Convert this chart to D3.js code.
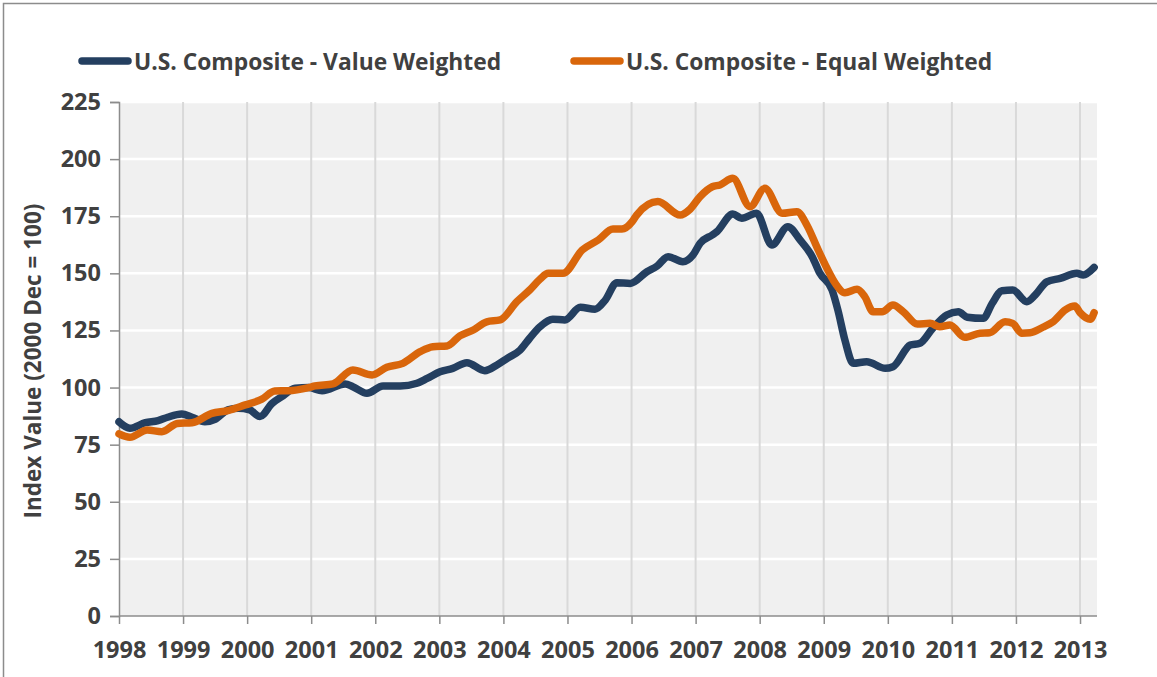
<!DOCTYPE html>
<html>
<head>
<meta charset="utf-8">
<script src="https://cdn.jsdelivr.net/npm/d3@7"></script>
<style>
  html, body { margin: 0; padding: 0; background: #ffffff; }
  svg { display: block; }
  text { font-family: "Open Sans", "Noto Sans", sans-serif; font-weight: 700; fill: #404040; }
</style>
</head>
<body>
<svg id="chart" width="1157" height="677"></svg>
<script>
// ---- data ----
const seriesNames = ["U.S. Composite - Value Weighted", "U.S. Composite - Equal Weighted"];

const valueWeightedDates = [1998.00,1998.17,1998.41,1998.61,1998.76,1998.98,1999.14,1999.34,1999.50,1999.70,1999.86,2000.04,2000.20,2000.39,2000.54,2000.75,2000.96,2001.17,2001.53,2001.65,2001.87,2002.12,2002.39,2002.65,2002.81,2003.01,2003.21,2003.43,2003.71,2003.90,2004.06,2004.26,2004.41,2004.57,2004.77,2004.96,2005.20,2005.43,2005.59,2005.77,2005.98,2006.24,2006.40,2006.57,2006.80,2006.96,2007.07,2007.26,2007.33,2007.58,2007.72,2007.95,2008.19,2008.44,2008.63,2008.82,2008.94,2009.13,2009.22,2009.33,2009.46,2009.67,2009.96,2010.08,2010.35,2010.50,2010.70,2010.92,2011.10,2011.24,2011.49,2011.63,2011.78,2011.95,2012.17,2012.30,2012.48,2012.69,2012.95,2013.05,2013.22];
const valueWeighted = [85.0,82.2,84.6,85.5,87.0,88.4,87.0,85.0,86.1,90.2,90.9,90.2,87.3,93.1,96.0,99.7,100.0,98.6,101.6,100.4,97.5,100.7,100.7,101.9,104.0,106.9,108.4,110.9,107.4,109.9,112.8,116.4,121.6,126.6,129.9,129.6,135.1,134.3,138.3,145.9,145.6,150.7,153.2,157.3,155.1,158.1,163.2,166.8,168.2,176.0,174.1,176.3,162.4,170.4,164.6,157.3,150.0,142.7,134.0,120.8,110.6,111.3,108.4,109.1,118.6,119.4,125.9,131.8,133.2,130.8,130.3,136.9,142.4,142.7,137.6,140.5,146.3,147.8,150.0,149.3,152.6];

const equalWeightedDates = [1998.00,1998.17,1998.44,1998.67,1998.91,1999.14,1999.45,1999.70,1999.97,2000.23,2000.43,2000.64,2000.96,2001.06,2001.34,2001.65,2001.95,2002.18,2002.43,2002.70,2002.90,2003.12,2003.32,2003.53,2003.74,2003.95,2004.21,2004.41,2004.57,2004.70,2004.93,2005.23,2005.48,2005.71,2005.85,2006.01,2006.08,2006.41,2006.76,2006.91,2007.07,2007.26,2007.38,2007.58,2007.85,2008.08,2008.35,2008.58,2008.75,2008.89,2009.05,2009.18,2009.33,2009.52,2009.64,2009.77,2009.91,2010.08,2010.24,2010.46,2010.66,2010.81,2010.97,2011.20,2011.44,2011.59,2011.83,2011.95,2012.09,2012.22,2012.42,2012.58,2012.77,2012.92,2013.00,2013.16,2013.22];
const equalWeighted = [79.7,78.2,81.4,80.7,84.3,84.6,88.7,89.9,92.4,94.9,98.5,98.6,100.0,100.7,101.6,107.7,105.5,108.9,110.6,115.7,117.9,118.2,122.6,125.2,128.8,129.6,137.6,142.7,147.4,150.0,150.0,160.2,164.6,169.4,169.4,172.6,175.5,181.4,175.5,178.0,183.6,187.9,188.7,191.6,179.2,187.2,176.3,177.0,170.4,161.7,152.2,145.6,141.5,143.0,139.8,133.2,133.2,136.1,133.2,127.8,128.1,126.6,127.4,122.0,123.8,124.0,128.8,128.1,123.8,124.0,126.4,128.8,134.0,135.7,132.8,129.9,132.8];

const yearTicks = [1998,1999,2000,2001,2002,2003,2004,2005,2006,2007,2008,2009,2010,2011,2012,2013];
const valueTicks = [0,25,50,75,100,125,150,175,200,225];
const yTitle = "Index Value (2000 Dec = 100)";

// ---- layout ----
const colors = ["#243f60", "#d9660b"];
const plot = { left: 119, right: 1097, top: 102, bottom: 616 };

const svg = d3.select("#chart");

// outer chart border
svg.append("rect")
  .attr("x", 3.5).attr("y", 3.5).attr("width", 1170).attr("height", 690)
  .attr("fill", "#ffffff").attr("stroke", "#8c8c8c").attr("stroke-width", 1.5);

const x = d3.scaleLinear().domain([1998, 2013.265]).range([plot.left, plot.right]);
const y = d3.scaleLinear().domain([0, 225]).range([plot.bottom, plot.top]);

// plot background
svg.append("rect")
  .attr("x", plot.left).attr("y", plot.top)
  .attr("width", plot.right - plot.left).attr("height", plot.bottom - plot.top)
  .attr("fill", "#f0f0f0");

// horizontal white gridlines
svg.append("g").selectAll("line").data(valueTicks.filter(v => v > 0)).join("line")
  .attr("x1", plot.left).attr("x2", plot.right)
  .attr("y1", d => y(d)).attr("y2", d => y(d))
  .attr("stroke", "#ffffff").attr("stroke-width", 2.5);

// vertical gridlines
svg.append("g").selectAll("line").data(yearTicks.filter(v => v > 1998)).join("line")
  .attr("x1", d => x(d)).attr("x2", d => x(d))
  .attr("y1", plot.top).attr("y2", plot.bottom)
  .attr("stroke", "#d9d9d9").attr("stroke-width", 2);

// axes
const yAxis = d3.axisLeft(y).tickValues(valueTicks).tickSize(9).tickPadding(9);
const gy = svg.append("g").attr("transform", `translate(${plot.left},0)`).call(yAxis);
gy.select(".domain").attr("stroke", "#8c8c8c").attr("stroke-width", 1.5);
gy.selectAll(".tick line").attr("stroke", "#8c8c8c").attr("stroke-width", 1.5);
gy.selectAll(".tick text").attr("font-size", 23.5).attr("font-family", null).attr("fill", "#404040");

const xAxis = d3.axisBottom(x).tickValues(yearTicks).tickFormat(d3.format("d")).tickSize(8).tickPadding(17);
const gx = svg.append("g").attr("transform", `translate(0,${plot.bottom})`).call(xAxis);
gx.select(".domain").attr("stroke", "#8c8c8c").attr("stroke-width", 1.5).attr("d", `M${plot.left},0H${plot.right}`);
gx.selectAll(".tick line").attr("stroke", "#8c8c8c").attr("stroke-width", 1.5);
gx.selectAll(".tick text").attr("font-size", 23.5).attr("font-family", null).attr("fill", "#404040");

// y title
svg.append("text")
  .attr("transform", `translate(41,${(plot.top + plot.bottom) / 2 + 2}) rotate(-90)`)
  .attr("text-anchor", "middle")
  .attr("font-size", 22.5)
  .text(yTitle);

// lines
const lineGen = d3.line().curve(d3.curveMonotoneX).x(d => x(d[0])).y(d => y(d[1]));
const seriesData = [
  d3.zip(valueWeightedDates, valueWeighted),
  d3.zip(equalWeightedDates, equalWeighted)
];
svg.append("g").selectAll("path").data(seriesData).join("path")
  .attr("d", d => lineGen(d))
  .attr("fill", "none")
  .attr("stroke", (d, i) => colors[i])
  .attr("stroke-width", 7.5)
  .attr("stroke-linejoin", "round")
  .attr("stroke-linecap", "round");

// legend
const legendItems = [
  { x: 79, name: seriesNames[0], color: colors[0] },
  { x: 571, name: seriesNames[1], color: colors[1] }
];
const lg = svg.append("g").selectAll("g").data(legendItems).join("g")
  .attr("transform", d => `translate(${d.x},61)`);
lg.append("line")
  .attr("x1", 3).attr("x2", 49).attr("y1", 0).attr("y2", 0)
  .attr("stroke", d => d.color).attr("stroke-width", 7.5).attr("stroke-linecap", "round");
lg.append("text")
  .attr("x", 55).attr("y", 8.5)
  .attr("font-size", 22.8)
  .text(d => d.name);
</script>
</body>
</html>
